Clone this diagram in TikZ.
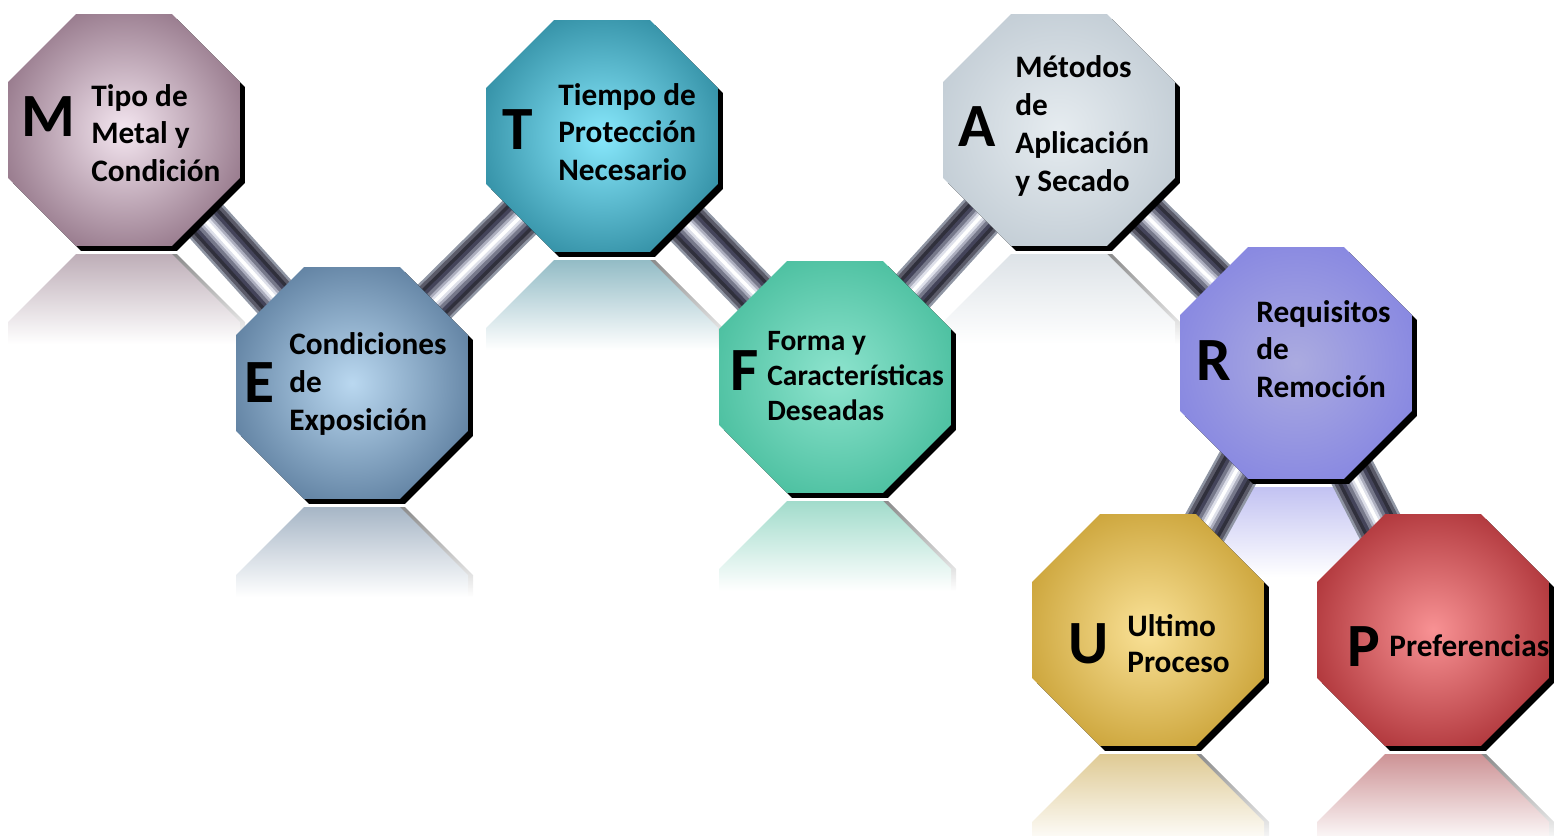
\documentclass[tikz,border=0pt]{standalone}
\usepackage{fontspec}
\setmainfont{Carlito}
\usetikzlibrary{shapes.geometric,shadows}
\pgfdeclarelayer{back}
\pgfsetlayers{back,main}

% octagon colours (in = glow, out = rim)
\definecolor{Min}{HTML}{F4E6F0}\definecolor{Mout}{HTML}{6E4A60}
\definecolor{Ein}{HTML}{BAD8F0}\definecolor{Eout}{HTML}{3A5C80}
\definecolor{Tin}{HTML}{88E8FC}\definecolor{Tout}{HTML}{0F6A80}
\definecolor{Fin}{HTML}{8EE4CE}\definecolor{Fout}{HTML}{2FB08C}
\definecolor{Ain}{HTML}{E6ECF0}\definecolor{Aout}{HTML}{B4C0CA}
\definecolor{Rin}{HTML}{ABABE0}\definecolor{Rout}{HTML}{7878E2}
\definecolor{Uin}{HTML}{FAE298}\definecolor{Uout}{HTML}{B88A12}
\definecolor{Pin}{HTML}{F89294}\definecolor{Pout}{HTML}{900E14}
\definecolor{tubeedge}{HTML}{9096A4}
\definecolor{tubeA}{HTML}{5A5A68}
\definecolor{tubeB}{HTML}{30303C}
\definecolor{tubeC}{HTML}{44445A}
\definecolor{tubeD}{HTML}{76788A}
\definecolor{tubeE}{HTML}{ACAEBE}
\definecolor{tubeF}{HTML}{DEE0EA}
\colorlet{octin}{white}\colorlet{octout}{black}

\pgfdeclareradialshading[octin,octout]{octglow}{\pgfpoint{0bp}{0bp}}%
  {color(0bp)=(octin); color(40bp)=(octout); color(50bp)=(octout)}

% mirrored lower half under an octagon: centre x, centre y, colour
\newcommand{\octreflect}[3]{%
  \shade[top color=black!45, bottom color=white]
    ({#1-43},{#2+124}) -- ({#1+53},{#2+124}) -- ({#1+121},{#2+192})
    -- ({#1+121},{#2+214}) -- ({#1-111},{#2+214}) -- ({#1-111},{#2+192}) -- cycle;
  \shade[top color=#3!45!white, bottom color=white]
    ({#1-48},{#2+124}) -- ({#1+48},{#2+124}) -- ({#1+116},{#2+192})
    -- ({#1+116},{#2+214}) -- ({#1-116},{#2+214}) -- ({#1-116},{#2+192}) -- cycle;}

\begin{document}
\begin{tikzpicture}[x=0.02cm,y=-0.02cm,
    oct/.style={regular polygon, regular polygon sides=8, minimum size=5.02cm,
      inner sep=0pt, shading=octglow,
      drop shadow={shadow xshift=0.1cm, shadow yshift=-0.1cm, opacity=1, fill=black}},
    bigletter/.style={font=\fontsize{35}{35}\selectfont\bfseries, inner sep=0pt},
    octtext/.style={font=\fontsize{17.8}{21.5}\selectfont\bfseries, align=left,
      anchor=west, inner sep=0pt},
    tube/.style={draw=tubeedge, line width=27pt,
      postaction={draw=tubeA, line width=24pt},
      postaction={draw=tubeB, line width=20pt},
      postaction={draw=tubeC, line width=16pt},
      postaction={draw=tubeD, line width=12pt},
      postaction={draw=tubeE, line width=8pt},
      postaction={draw=tubeF, line width=5pt},
      postaction={draw=white, line width=2pt}}]
  \useasboundingbox (0,0) rectangle (1555,835);

  % Octagons
  \foreach \n/\x/\y in {M/124/130, E/352/383, T/602/136, F/835/377,
      A/1059/130, R/1296/363, U/1148/630, P/1433/630}{
    \colorlet{octin}{\n in}\colorlet{octout}{\n out}
    \node[oct] (\n) at (\x,\y) {};
  }

  % Letters and captions
  \node[bigletter] (Mlet) at (48,117) {M};
  \node[octtext] (Mtxt) at (91,133) {Tipo de\\Metal y\\Condición};
  \node[bigletter] (Elet) at (259,383) {E};
  \node[octtext] (Etxt) at (289,384) {Condiciones\\de\\Exposición};
  \node[bigletter] (Tlet) at (518,130) {T};
  \node[octtext] (Ttxt) at (558,132) {Tiempo de\\Protección\\Necesario};
  \node[bigletter] (Flet) at (745,371) {F};
  \node[octtext, font=\fontsize{16.8}{19.8}\selectfont\bfseries]
    (Ftxt) at (767,376) {Forma y\\Características\\Deseadas};
  \node[bigletter] (Alet) at (977,127) {A};
  \node[octtext] (Atxt) at (1015,126) {Métodos\\de\\Aplicación\\y Secado};
  \node[bigletter] (Rlet) at (1214,361) {R};
  \node[octtext] (Rtxt) at (1256,349) {Requisitos\\de\\Remoción};
  \node[bigletter] (Ulet) at (1089,644) {U};
  \node[octtext, font=\fontsize{17.8}{20.5}\selectfont\bfseries]
    (Utxt) at (1127,644) {Ultimo\\Proceso};
  \node[bigletter] (Plet) at (1364,647) {P};
  \node[octtext] (Ptxt) at (1389,646) {Preferencias};

  \begin{pgfonlayer}{back}
    % Reflections
    \foreach \n/\x/\y in {M/124/130, E/352/383, T/602/136, F/835/377,
        A/1059/130, R/1296/363, U/1148/630, P/1433/630}{
      \octreflect{\x}{\y}{\n out}
    }
    % Metal tubes
    \draw[tube] (M.center) -- (E.center);
    \draw[tube] (E.center) -- (T.center);
    \draw[tube] (T.center) -- (F.center);
    \draw[tube] (F.center) -- (A.center);
    \draw[tube] (A.center) -- (R.center);
    \draw[tube] (R.center) -- (U.center);
    \draw[tube] (R.center) -- (P.center);
  \end{pgfonlayer}
\end{tikzpicture}
\end{document}
